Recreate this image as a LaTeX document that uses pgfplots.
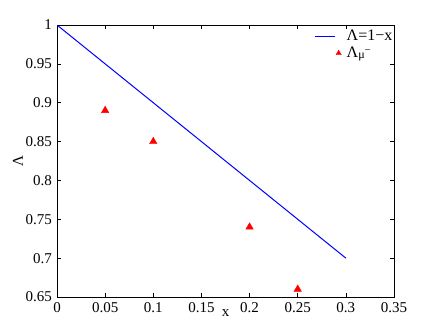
\documentclass[border=0pt]{standalone}
\usepackage{fontspec}
\setmainfont{Liberation Serif}
\usepackage{pgfplots}
\pgfplotsset{compat=1.18}
\pgfplotsset{
  lineleg/.style={legend image code/.code={\draw[##1, blue, line width=1bp] (0bp,0bp) -- (20bp,0bp); \path (30bp,0bp);}},
  markleg/.style={legend image code/.code={\path (0bp,0bp) (30bp,0bp); \draw[##1, mark size=3bp] plot coordinates {(24bp,0bp)};}},
}
\begin{document}
\fontsize{15bp}{18bp}\selectfont
\begin{tikzpicture}
\useasboundingbox (-57bp,-37bp) rectangle (379bp,297bp);
\begin{axis}[
  scale only axis, width=337bp, height=272bp,
  xmin=0, xmax=0.35, ymin=0.65, ymax=1,
  xtick={0,0.05,0.1,0.15,0.2,0.25,0.3,0.35},
  ytick={0.65,0.7,0.75,0.8,0.85,0.9,0.95,1},
  tick align=inside, tick pos=both,
  major tick length=4bp,
  axis line style={line width=1bp, black},
  tick style={line width=0.6bp, black},
  /pgf/number format/assume math mode=true,
  /pgf/number format/fixed, /pgf/number format/precision=2,
  ticklabel style={font=\fontsize{15bp}{18bp}\selectfont},
  xlabel={x}, ylabel={Λ},
  xlabel style={at={(axis description cs:0.5,-0.0724)}, anchor=base, inner sep=0pt, font=\fontsize{15bp}{18bp}\selectfont},
  ylabel style={at={(axis description cs:-0.1009,0.5)}, anchor=base, inner sep=0pt, font=\fontsize{15bp}{18bp}\selectfont},
  legend style={at={(1,1)}, yshift=-2.5bp, anchor=north east, draw=none, fill=none,
    font=\fontsize{16bp}{18bp}\selectfont, inner sep=0pt, row sep=0pt,
    nodes={inner sep=1.5bp, text height=11bp, text depth=3bp}},
  legend cell align=left,
]
\addplot[blue, line width=1bp, lineleg]
  coordinates {(0,1) (0.3,0.7)};
\addlegendentry{Λ=1−x}
\addplot[only marks, mark=triangle*, red, mark size=4.3bp, markleg]
  coordinates {(0.05,0.89) (0.1,0.85) (0.2,0.74) (0.25,0.66)};
\addlegendentry{Λ\raisebox{-1bp}{\fontsize{12bp}{12bp}\selectfont μ\raisebox{5bp}{\fontsize{11bp}{11bp}\selectfont −}}}
\end{axis}
\end{tikzpicture}
\end{document}
